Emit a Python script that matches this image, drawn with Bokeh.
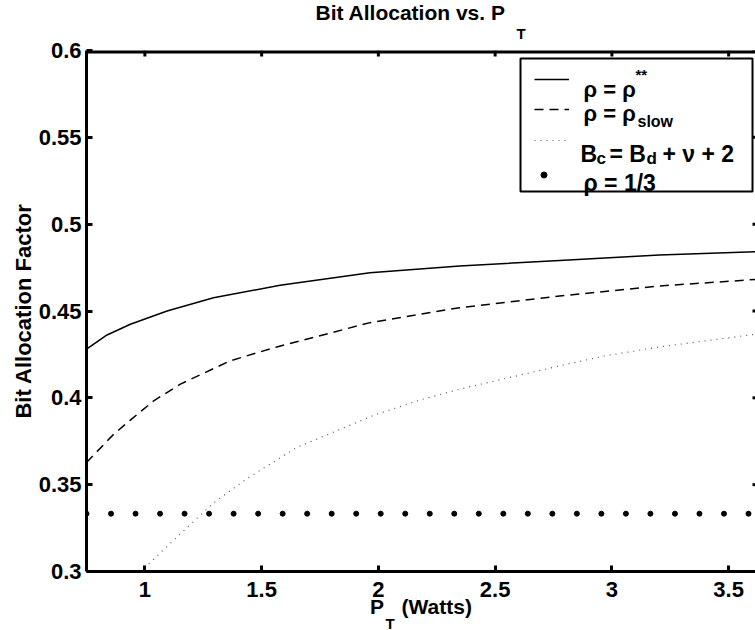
from bokeh.plotting import figure
from bokeh.models import (Range1d, FixedTicker, Label, Legend, LegendItem,
                          Title, BoxAnnotation)
from bokeh.embed import file_html
from bokeh.resources import INLINE

FONT = "Liberation Sans"
NB = "\u00a0"

# ---- data ----
x_ticks = [1, 1.5, 2, 2.5, 3, 3.5]
y_ticks = [0.3, 0.35, 0.4, 0.45, 0.5, 0.55, 0.6]
y_tick_labels = ["0.3", "0.35", "0.4", "0.45", "0.5", "0.55", "0.6"]

pt_opt = [0.75, 0.838, 0.938, 1.095, 1.294, 1.579, 1.964, 2.348, 2.776, 3.203, 3.62]
rho_opt = [0.428, 0.4362, 0.4424, 0.450, 0.4576, 0.4648, 0.472, 0.4759, 0.4791, 0.4822, 0.4842]

pt_slow = [0.75, 0.867, 0.938, 1.038, 1.152, 1.365, 1.565, 1.964, 2.348, 2.776, 3.203, 3.62]
rho_slow = [0.3628, 0.3791, 0.3872, 0.3983, 0.4079, 0.4213, 0.4293, 0.4433, 0.4519, 0.4586, 0.4644, 0.4682]

pt_bc = [0.98, 1.002, 1.152, 1.294, 1.437, 1.65, 1.985, 2.177, 2.348, 2.776, 2.968, 3.203, 3.62]
rho_bc = [0.2996, 0.3025, 0.3217, 0.3395, 0.3535, 0.3714, 0.3902, 0.3987, 0.4050, 0.4184, 0.4241, 0.4293, 0.4367]

pt_third = [0.75, 0.855, 0.96, 1.065, 1.17, 1.275, 1.38, 1.485, 1.59, 1.695, 1.8, 1.905,
            2.01, 2.115, 2.22, 2.325, 2.43, 2.535, 2.64, 2.745, 2.85, 2.955, 3.06, 3.165,
            3.27, 3.375, 3.48, 3.585]
rho_third = [0.3333] * len(pt_third)

# ---- layout ----
W, H = 755, 630
FL, FT, FB, FR = 86, 50, 571, 755
X0, X1, Y0, Y1 = 0.75, 3.615, 0.3, 0.6

p = figure(width=W, height=H, output_backend="svg", toolbar_location=None,
           x_range=Range1d(X0, X1), y_range=Range1d(Y0, Y1),
           min_border_left=FL, min_border_top=FT, min_border_bottom=H - FB,
           min_border_right=0, background_fill_color="white",
           border_fill_color="white")
p.outline_line_color = None
p.grid.visible = False


def style_axis(ax):
    ax.axis_line_width = 3
    ax.axis_line_color = "black"
    ax.major_tick_line_width = 3
    ax.major_tick_line_color = "black"
    ax.major_tick_in = 6
    ax.major_tick_out = 0
    ax.minor_tick_line_color = None
    ax.major_label_text_font = FONT
    ax.major_label_text_font_style = "bold"
    ax.major_label_text_color = "black"
    ax.major_label_text_font_size = "22px"


# title: main text, subscript T in its own row just below it
p.title = Title(text="Bit Allocation vs. P", align="left", offset=315 - FL,
                text_font=FONT, text_font_style="bold", text_font_size="21px",
                text_color="black", standoff=-20)
p.add_layout(Title(text="T", align="left", offset=516 - FL,
                   text_font=FONT, text_font_style="bold", text_font_size="15px",
                   text_color="black", standoff=18), "above")

xb = p.below[0]
xb.ticker = FixedTicker(ticks=x_ticks)
style_axis(xb)
xb.major_label_standoff = 10
xb.axis_label = "P" + NB * 3 + "(Watts)"
xb.axis_label_text_font = FONT
xb.axis_label_text_font_style = "bold"
xb.axis_label_text_font_size = "21px"
xb.axis_label_text_color = "black"
xb.axis_label_standoff = -5
p.add_layout(Title(text="T", align="left", offset=385 - FL,
                   text_font=FONT, text_font_style="bold", text_font_size="15px",
                   text_color="black", standoff=-16), "below")

yl = p.left[0]
yl.ticker = FixedTicker(ticks=y_ticks)
yl.major_label_overrides = dict(zip(y_ticks, y_tick_labels))
style_axis(yl)
yl.major_label_standoff = 5
yl.axis_label = "Bit Allocation Factor"
yl.axis_label_text_font = FONT
yl.axis_label_text_font_style = "bold"
yl.axis_label_text_font_size = "22px"
yl.axis_label_text_color = "black"
yl.axis_label_standoff = 0

# top frame edge with inward ticks, and right-edge tick stubs (frame is cut at the window edge)
tick_len_y = (Y1 - Y0) * 6 / (FB - FT)
stub_x = (X1 - X0) * 3 / (FR - FL)
p.line([X0, X1], [Y1, Y1], line_color="black", line_width=6)
p.segment(x0=x_ticks, y0=[Y1] * len(x_ticks), x1=x_ticks,
          y1=[Y1 - tick_len_y] * len(x_ticks), line_color="black", line_width=3)
p.segment(x0=[X1 - stub_x] * len(y_ticks), y0=y_ticks, x1=[X1] * len(y_ticks),
          y1=y_ticks, line_color="black", line_width=3)

# ---- legend frame (white box, black border) ----
p.add_layout(BoxAnnotation(left=520 - FL, right=752 - FL, top=FB - 58, bottom=FB - 191,
                           left_units="screen", right_units="screen",
                           top_units="screen", bottom_units="screen",
                           fill_color="white", fill_alpha=1,
                           line_color="black", line_width=2, line_alpha=1,
                           level="underlay"))

# ---- series ----
r_opt = p.line(pt_opt, rho_opt, line_color="black", line_width=1.5)
r_slow = p.line(pt_slow, rho_slow, line_color="black", line_width=1.5, line_dash="9 6")
r_bc = p.line(pt_bc, rho_bc, line_color="#555555", line_width=1.2, line_dash="1 5")
r_third = p.scatter(pt_third, rho_third, size=5, color="black")


# one transparent single-row legend per entry: only the sample glyph is shown
def sample(renderer, left, cy, gw, gh):
    p.add_layout(Legend(items=[LegendItem(label=" ", renderers=[renderer])],
                        location=(left - FL, FB - cy - gh / 2), padding=0, spacing=0,
                        margin=0, glyph_width=gw, glyph_height=gh, label_height=gh,
                        label_width=0, label_standoff=0, label_text_font_size="1px",
                        border_line_alpha=0, background_fill_alpha=0))


sample(r_opt, 534, 79, 35, 20)
sample(r_slow, 534, 109, 35, 20)
sample(r_bc, 534, 140, 35, 20)
sample(r_third, 536, 174, 15, 15)


def lab(text, cx, cy, size, align="left"):
    p.add_layout(Label(x=cx - FL, y=FB - cy, x_units="screen", y_units="screen",
                       text=text, text_font=FONT, text_font_style="bold",
                       text_font_size=f"{size}px", text_color="black",
                       text_baseline="alphabetic", text_align=align,
                       level="overlay"))


# legend texts
lab("ρ = ρ", 583, 89, 22)
lab("**", 635, 74, 15)
lab("ρ = ρ", 583, 113, 22)
lab("slow", 637, 121, 16)
lab("B", 580, 153, 23)
lab("c", 596, 158, 17)
lab("= B", 609, 153, 23)
lab("d", 646, 158, 17)
lab("+ ν + 2", 662, 153, 23)
lab("ρ = 1/3", 583, 182, 23)

open("out.html", "w").write(file_html(p, INLINE))
